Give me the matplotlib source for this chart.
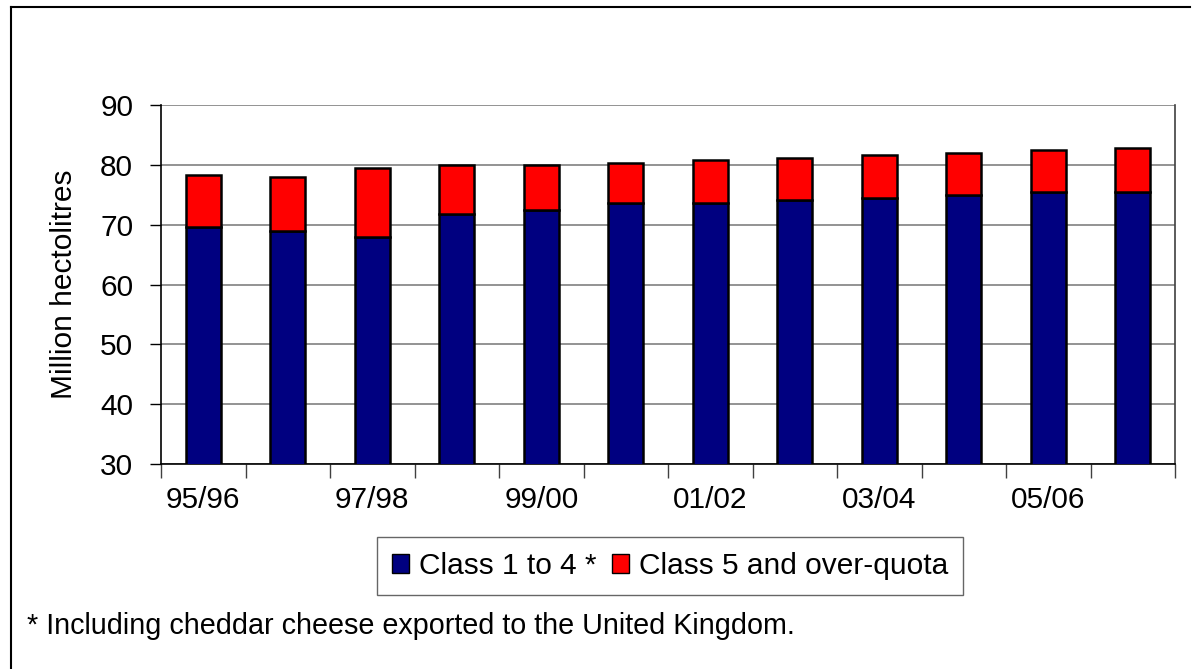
import numpy as np
import matplotlib
matplotlib.use("Agg")
import matplotlib.pyplot as plt
from matplotlib.lines import Line2D
from matplotlib.patches import Patch

plt.rcParams['font.family'] = ['Liberation Sans', 'DejaVu Sans']

# marketing years
years = ["95/96", "96/97", "97/98", "98/99", "99/00", "00/01",
         "01/02", "02/03", "03/04", "04/05", "05/06", "06/07"]
# class 1 to 4 (million hl)
class14 = [69.6, 68.9, 68.0, 71.7, 72.4, 73.6, 73.7, 74.1, 74.5, 74.95, 75.4, 75.4]
totals = [78.3, 77.9, 79.5, 80.0, 79.9, 80.3, 80.8, 81.2, 81.6, 82.0, 82.4, 82.8]
class5 = [t - c for t, c in zip(totals, class14)]

W, H = 1195, 669
fs = 21.5
fig = plt.figure(figsize=(W / 100, H / 100), dpi=100)
ax = fig.add_axes([161 / W, 1 - 464 / H, (1175 - 161) / W, (464 - 105) / H])

x = np.arange(len(years))
bw = 0.41
ax.bar(x, class14, bw, color='#000080', edgecolor='black', linewidth=1.8, zorder=3)
ax.bar(x, class5, bw, bottom=class14, color='#ff0000', edgecolor='black', linewidth=1.8, zorder=3)

ax.set_ylim(30, 90)
ax.set_xlim(-0.5, len(years) - 0.5)
ax.set_yticks(range(30, 91, 10))
ax.yaxis.grid(True, color='#808080', linewidth=1.2, zorder=0)
ax.tick_params(axis='y', labelsize=fs, length=8, width=1, pad=12)

ax.set_xticks(x[::2])
ax.set_xticklabels(years[::2], fontsize=fs)
ax.tick_params(axis='x', which='major', length=0, pad=16)
ax.set_xticks(np.arange(-0.5, len(years), 1), minor=True)
ax.tick_params(axis='x', which='minor', length=10, width=1, color='#404040')

for s in ['left', 'bottom']:
    ax.spines[s].set_color('black')
    ax.spines[s].set_linewidth(1.2)
ax.spines['top'].set_visible(False)
ax.spines['right'].set_color('#404040')
ax.spines['right'].set_linewidth(1.2)

ax.set_ylabel("Million hectolitres", fontsize=fs)
ax.yaxis.set_label_coords(-(161 - 78) / (1175 - 161), 0.5)

handles = [Patch(facecolor='#000080', edgecolor='black', label='Class 1 to 4 *'),
           Patch(facecolor='#ff0000', edgecolor='black', label='Class 5 and over-quota')]
leg = fig.legend(handles=handles, loc='center', bbox_to_anchor=(670 / W, 1 - 566 / H),
                 ncol=2, fontsize=fs, frameon=True, fancybox=False, edgecolor='#404040',
                 handlelength=0.57, handleheight=0.57, handletextpad=0.35, columnspacing=0.5,
                 borderpad=0.5, borderaxespad=0)
leg.get_frame().set_linewidth(1.0)

fig.text(27 / W, 1 - 626 / H, "* Including cheddar cheese exported to the United Kingdom.",
         fontsize=20.7, ha='left', va='center')

# outer frame (left and top edges visible)
fig.add_artist(Line2D([11 / W, 11 / W], [0, 1 - 7 / H], transform=fig.transFigure, color='black', linewidth=1.5))
fig.add_artist(Line2D([11 / W, 1190 / W], [1 - 7 / H, 1 - 7 / H], transform=fig.transFigure, color='black', linewidth=1.5))

fig.savefig("out.png", dpi=100)
